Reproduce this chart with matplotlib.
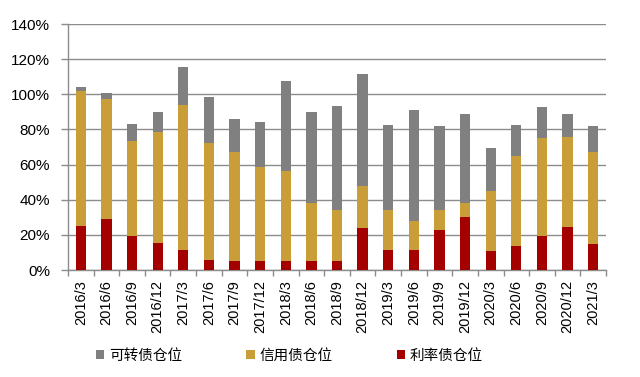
import matplotlib
matplotlib.use("Agg")
import matplotlib.pyplot as plt
import numpy as np
from matplotlib.ticker import FixedLocator, PercentFormatter

plt.rcParams['font.family'] = ['Liberation Sans', 'Noto Sans CJK SC', 'DejaVu Sans']

categories = ["2016/3", "2016/6", "2016/9", "2016/12", "2017/3", "2017/6", "2017/9", "2017/12",
              "2018/3", "2018/6", "2018/9", "2018/12", "2019/3", "2019/6", "2019/9", "2019/12",
              "2020/3", "2020/6", "2020/9", "2020/12", "2021/3"]
rate_bond = [24.8, 28.8, 19.4, 15.2, 11.6, 5.7, 5.3, 5.0, 5.0, 5.0, 5.3, 23.8, 11.2, 11.6, 22.5,
             30.3, 10.7, 13.9, 19.2, 24.2, 14.9]
credit_bond = [77.1, 68.7, 53.9, 63.1, 82.1, 66.5, 62.1, 53.5, 51.2, 32.9, 29.0, 24.2, 23.1, 16.4,
               11.8, 7.8, 34.4, 50.9, 56.0, 51.4, 52.1]
convertible = [2.5, 3.0, 9.9, 11.8, 21.7, 26.5, 18.3, 25.7, 51.4, 52.2, 59.2, 63.6, 48.4, 63.2,
               47.4, 50.9, 24.4, 17.9, 17.8, 13.4, 14.7]
series_names = ["可转债仓位", "信用债仓位", "利率债仓位"]
yticks = [0, 20, 40, 60, 80, 100, 120, 140]

c_gray = "#808080"
c_gold = "#C99E38"
c_red = "#A50000"
c_axis = "#8C8C8C"

fig = plt.figure(figsize=(6.4, 3.77), dpi=100)
ax = fig.add_axes([68/640, 1 - 270/377, (606-68)/640, (270-24)/377])

x = np.arange(len(categories))
rb = np.array(rate_bond)
cb = np.array(credit_bond)
cv = np.array(convertible)
w = 0.4
h_red = ax.bar(x, rb, width=w, color=c_red, zorder=3)
h_gold = ax.bar(x, cb, width=w, bottom=rb, color=c_gold, zorder=3)
h_gray = ax.bar(x, cv, width=w, bottom=rb + cb, color=c_gray, zorder=3)

ax.set_xlim(-0.5, len(categories) - 0.5)
ax.set_ylim(0, 140)
ax.yaxis.set_major_locator(FixedLocator(yticks))
ax.yaxis.set_major_formatter(PercentFormatter(decimals=0))
ax.grid(axis='y', color=c_axis, linewidth=1.0, zorder=0)
ax.set_axisbelow(True)

ax.set_xticks(x)
ax.set_xticklabels(categories, rotation=90, fontsize=10.5)
ax.tick_params(axis='x', which='major', length=0, pad=7)
ax.set_xticks(np.arange(len(categories) + 1) - 0.5, minor=True)
ax.tick_params(axis='x', which='minor', length=4, color=c_axis, width=1)
ax.tick_params(axis='y', length=5, color=c_axis, width=1, labelsize=11, pad=8)

for s in ['top', 'right']:
    ax.spines[s].set_visible(False)
for s in ['left', 'bottom']:
    ax.spines[s].set_color(c_axis)
    ax.spines[s].set_linewidth(1)

leg = fig.legend([h_gray, h_gold, h_red], series_names, loc='center',
                 bbox_to_anchor=(0.452, 1 - 356/377), ncol=3, frameon=False,
                 handlelength=0.6, handleheight=0.6, handletextpad=0.3,
                 columnspacing=4.4, prop={'family': ['Noto Sans CJK SC', 'DejaVu Sans'], 'size': 10.5})

fig.savefig("out.png", dpi=100)
